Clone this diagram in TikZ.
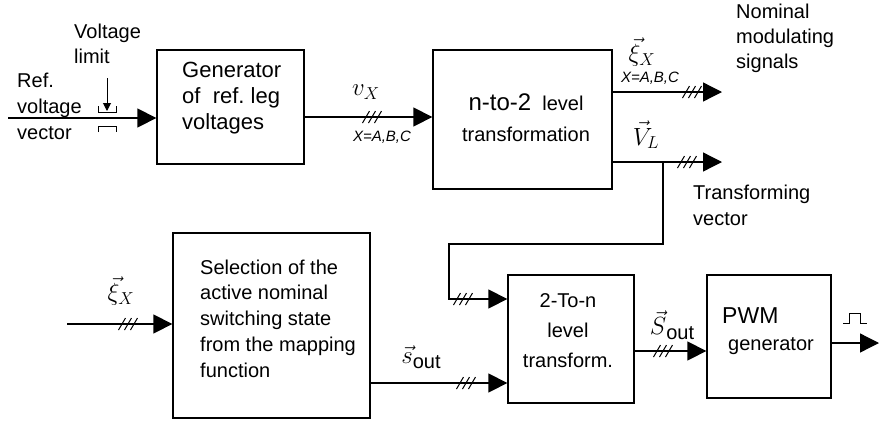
\documentclass[tikz,border=0pt]{standalone}
\usepackage{fontspec}
\setmainfont{Liberation Sans}
\usetikzlibrary{arrows.meta}

\begin{document}
\begin{tikzpicture}[x=1pt,y=-1pt]
\tikzset{
  blockbox/.style={draw, line width=1.3pt, inner sep=0pt},
  boxtext/.style={align=left, inner sep=0pt, font=\fontsize{20}{25.5}\selectfont},
  sig/.style={line width=1.3pt, -{Triangle[length=19pt,width=19pt]}},
  thin wire/.style={line width=1pt},
  mathlbl/.style={inner sep=0pt, font=\fontsize{24}{24}\selectfont},
  smalllbl/.style={inner sep=0pt, font=\fontsize{15}{15}\selectfont\itshape},
  bus/.pic={\foreach \d in {-6,0,6} \draw[thin wire] (\d-3.5,6) -- (\d+3.5,-6);}
}
\useasboundingbox (0,0) rectangle (879,421);

%les blocs
\node[blockbox, minimum width=147, minimum height=114] (gen) at (230.5,107) {};
\node[blockbox, minimum width=179, minimum height=139] (ntwo) at (522.5,119.5) {};
\node[blockbox, minimum width=197, minimum height=185] (sel) at (271.5,325.5) {};
\node[blockbox, minimum width=126, minimum height=128] (twon) at (571,339) {};
\node[blockbox, minimum width=124, minimum height=123] (pwm) at (769,336.5) {};

%textes des blocs
\node[boxtext, font=\fontsize{22}{26}\selectfont, anchor=west] (gentext) at (182,98) {Generator\\of\ \ ref.\ leg\\voltages};
\node[boxtext, align=center, font=\fontsize{20}{31}\selectfont] (ntwotext) at (526,118) {{\fontsize{24}{26}\selectfont n-to-2}\ \ level\\transformation};
\node[boxtext, anchor=west, font=\fontsize{20}{25.8}\selectfont] (seltext) at (200,318.5) {Selection of the\\active nominal\\switching state\\from the mapping\\function};
\node[boxtext, align=center, font=\fontsize{20}{30}\selectfont] (twontext) at (568,331) {2-To-n\\level\\transform.};
\node[boxtext, anchor=west, font=\fontsize{20}{27}\selectfont] (pwmtext) at (722,331) {{\fontsize{23}{27}\selectfont PWM}\\\hspace{6pt}generator};

%textes libres
\node[boxtext, anchor=west, font=\fontsize{20}{26}\selectfont] (reflbl) at (17,106) {Ref.\\voltage\\vector};
\node[boxtext, anchor=west, font=\fontsize{20}{25}\selectfont] (limlbl) at (74,44) {Voltage\\limit};
\node[boxtext, anchor=west, font=\fontsize{20}{25}\selectfont] (nomlbl) at (736,38) {Nominal\\modulating\\signals};
\node[boxtext, anchor=west, font=\fontsize{20}{26}\selectfont] (trflbl) at (693,205) {Transforming\\vector};

%etiquettes des signaux
\node[mathlbl] (vxlbl) at (366,92) {$v_{X}$};
\node[smalllbl] (xalbl) at (382,137) {X=A,B,C};
\node[mathlbl] (xioutlbl) at (642,52) {$\vec{\xi}_{X}$};
\node[smalllbl] (xboutlbl) at (650,78) {X=A,B,C};
\node[mathlbl] (vllbl) at (646,135) {$\vec{V}_{L}$};
\node[mathlbl] (xiinlbl) at (121,291) {$\vec{\xi}_{X}$};
\node[mathlbl] (soutlbl) at (421,357) {$\vec{s}$\raisebox{-5pt}{\fontsize{20}{20}\selectfont out}};
\node[mathlbl] (Soutlbl) at (672,325) {$\vec{S}$\raisebox{-5pt}{\fontsize{20}{20}\selectfont out}};

%points libres
\coordinate (refin) at (8,118);
\coordinate (ntwoin) at ([yshift=2.5pt]ntwo.west);
\coordinate (nomend) at (722,92);
\coordinate (vlend) at (722,162);
\coordinate (vltap) at (663,162);
\coordinate (fbturn) at (449,244);
\coordinate (twonin) at ([yshift=40pt]twon.west);
\coordinate (twonlow) at ([yshift=-44pt]twon.west);
\coordinate (twonout) at ([yshift=-12pt]twon.east);
\coordinate (xistart) at (67,324);
\coordinate (pwmend) at (879,343);

%liaisons
\draw[sig] (refin) -- (refin -| gen.west);
\draw[sig] (gen.east |- ntwoin) -- (ntwoin);
\draw[sig] (nomend -| ntwo.east) -- (nomend);
\draw[sig] (vlend -| ntwo.east) -- (vlend);
\draw[sig] (vltap) |- (fbturn) |- (twonin);
\draw[sig] (xistart) -- (xistart -| sel.west);
\draw[sig] (twonlow -| sel.east) -- (twonlow);
\draw[sig] (twonout) -- (twonout -| pwm.west);
\draw[sig] (pwmend -| pwm.east) -- (pwmend);

%bus triphases
\pic at (372,117) {bus};
\pic at (692,92) {bus};
\pic at (687,162) {bus};
\pic at (463,299) {bus};
\pic at (466,383) {bus};
\pic at (663,351) {bus};
\pic at (128,324) {bus};

%limiteur de tension
\draw[thin wire] (98,106) -- (98,112) -- (116,112) -- (116,106);
\draw[thin wire] (98,132) -- (98,126) -- (116,126) -- (116,132);
\draw[thin wire, -{Triangle[length=8pt,width=8pt]}] (107,78) -- (107,111);

%impulsion
\draw[thin wire] (843,323) -- (849,323) -- (849,313) -- (860,313) -- (860,323) -- (867,323);
\end{tikzpicture}
\end{document}
